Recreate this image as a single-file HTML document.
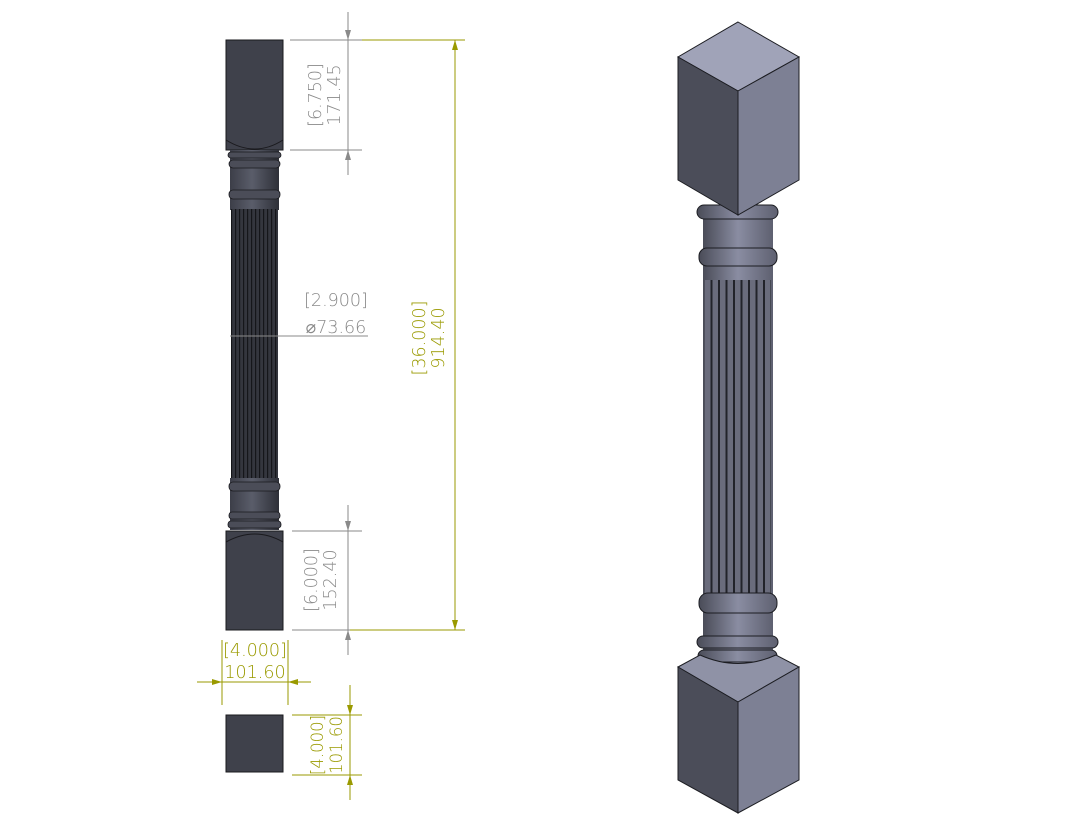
<!DOCTYPE html>
<html><head><meta charset="utf-8"><style>
html,body{margin:0;padding:0;background:#fff;}
svg{display:block;}
text{font-family:"DejaVu Sans","Liberation Sans",sans-serif;font-weight:200;}
</style></head><body>
<svg width="1080" height="835" viewBox="0 0 1080 835" xmlns="http://www.w3.org/2000/svg">
<defs>
<linearGradient id="sh" x1="0" x2="1" y1="0" y2="0">
<stop offset="0" stop-color="#3c3e48"/><stop offset="0.45" stop-color="#5a5d6a"/><stop offset="1" stop-color="#2e3038"/>
</linearGradient>
<linearGradient id="ish" x1="0" x2="1" y1="0" y2="0">
<stop offset="0" stop-color="#4a4c58"/><stop offset="0.5" stop-color="#8a8da2"/><stop offset="1" stop-color="#5e6070"/>
</linearGradient>
<pattern id="fl" x="231" y="0" width="4" height="10" patternUnits="userSpaceOnUse">
<rect width="4" height="10" fill="#34363e"/><rect x="0" width="1.2" height="10" fill="#15161a"/>
</pattern>
<pattern id="ifl" x="703" y="0" width="7.5" height="10" patternUnits="userSpaceOnUse">
<rect width="7.5" height="10" fill="#6a6c7c"/><rect x="0" width="2" height="10" fill="#22232a"/>
</pattern>
</defs>

<rect x="226" y="40" width="57" height="110" fill="#3f414b" stroke="#1a1a1e"/>
<path d="M226,140 Q255,158 283,140" fill="none" stroke="#1a1a1e" stroke-width="1"/>
<rect x="230" y="150" width="49" height="60" fill="url(#sh)"/>
<rect x="228" y="152" width="53" height="6" rx="3" fill="#4b4d58" stroke="#1a1a1e" stroke-width="0.8"/>
<rect x="229" y="160" width="51" height="8" rx="4" fill="#4b4d58" stroke="#1a1a1e" stroke-width="0.8"/>
<rect x="229" y="190" width="51" height="9" rx="4" fill="#4b4d58" stroke="#1a1a1e" stroke-width="0.8"/>
<rect x="231" y="209" width="47" height="272" fill="url(#fl)"/>
<rect x="230" y="478" width="49" height="52" fill="url(#sh)"/>
<rect x="229" y="482" width="51" height="9" rx="4" fill="#4b4d58" stroke="#1a1a1e" stroke-width="0.8"/>
<rect x="229" y="512" width="51" height="7" rx="3" fill="#4b4d58" stroke="#1a1a1e" stroke-width="0.8"/>
<rect x="228" y="521" width="53" height="7" rx="3" fill="#4b4d58" stroke="#1a1a1e" stroke-width="0.8"/>
<rect x="226" y="531" width="57" height="99" fill="#3f414b" stroke="#1a1a1e"/>
<path d="M226,542 Q255,526 283,542" fill="none" stroke="#1a1a1e" stroke-width="1"/>
<rect x="226" y="715" width="57" height="57" fill="#3f414b" stroke="#1a1a1e"/>

<g stroke="#8a8a8a" stroke-width="1" fill="none">
<line x1="290" y1="40" x2="362" y2="40"/>
<line x1="290" y1="150" x2="362" y2="150"/>
<line x1="348" y1="12" x2="348" y2="175"/>
<line x1="230" y1="336" x2="368" y2="336"/>
<line x1="292" y1="531" x2="362" y2="531"/>
<line x1="292" y1="630" x2="350" y2="630"/>
<line x1="348" y1="505" x2="348" y2="655"/>
</g>
<g fill="#8a8a8a">
<path d="M345,30 L351,30 L348,40Z"/><path d="M345,160 L351,160 L348,150Z"/>
<path d="M345,521 L351,521 L348,531Z"/><path d="M345,640 L351,640 L348,630Z"/>
</g>
<g fill="#8a8a8a" font-size="17.5">
<text transform="translate(321,95) rotate(-90)" text-anchor="middle">[6.750]</text>
<text transform="translate(340,95) rotate(-90)" text-anchor="middle">171.45</text>
<text transform="translate(317,580) rotate(-90)" text-anchor="middle">[6.000]</text>
<text transform="translate(336,580) rotate(-90)" text-anchor="middle">152.40</text>
<text x="336" y="306" text-anchor="middle">[2.900]</text>
<text x="336" y="333" text-anchor="middle">⌀73.66</text>
</g>

<g stroke="#9a9a00" stroke-width="1" fill="none">
<line x1="362" y1="40" x2="465" y2="40"/>
<line x1="350" y1="630" x2="465" y2="630"/>
<line x1="455" y1="40" x2="455" y2="630"/>
<line x1="222" y1="640" x2="222" y2="705"/>
<line x1="288" y1="640" x2="288" y2="705"/>
<line x1="197" y1="682" x2="311" y2="682"/>
<line x1="292" y1="715" x2="362" y2="715"/>
<line x1="292" y1="775" x2="362" y2="775"/>
<line x1="350" y1="685" x2="350" y2="800"/>
</g>
<g fill="#9a9a00">
<path d="M452,50 L458,50 L455,40Z"/><path d="M452,620 L458,620 L455,630Z"/>
<path d="M212,679 L212,685 L222,682Z"/><path d="M298,679 L298,685 L288,682Z"/>
<path d="M347,705 L353,705 L350,715Z"/><path d="M347,785 L353,785 L350,775Z"/>
</g>
<g fill="#9a9a00" font-size="17.5">
<text transform="translate(425,338) rotate(-90)" text-anchor="middle">[36.000]</text>
<text transform="translate(444,338) rotate(-90)" text-anchor="middle">914.40</text>
<text x="255" y="656" text-anchor="middle">[4.000]</text>
<text x="255" y="678" text-anchor="middle">101.60</text>
<text transform="translate(323,745) rotate(-90)" text-anchor="middle" font-size="16.5">[4.000]</text>
<text transform="translate(342,745) rotate(-90)" text-anchor="middle" font-size="16.5">101.60</text>
</g>

<rect x="703" y="205" width="70" height="460" fill="url(#ish)"/>
<rect x="705" y="280" width="66" height="315" fill="url(#ifl)"/>
<g fill="url(#ish)" stroke="#1c1d22" stroke-width="1">
<rect x="697" y="205" width="81" height="14" rx="7"/>
<rect x="699" y="248" width="78" height="18" rx="8"/>
<rect x="699" y="593" width="78" height="20" rx="9"/>
<rect x="697" y="636" width="81" height="12" rx="6"/>
<rect x="698" y="650" width="79" height="12" rx="6"/>
</g>
<path d="M738,22 L799,57 L738,91 L678,57Z" fill="#a0a3b8" stroke="#1c1d22"/>
<path d="M678,57 L738,91 L738,215 L678,180Z" fill="#4b4d59" stroke="#1c1d22"/>
<path d="M738,91 L799,57 L799,180 L738,215Z" fill="#7d8094" stroke="#1c1d22"/>
<path d="M678,667 L700,655 Q738,672 776,655 L799,667 L738,702Z" fill="#8f92a6" stroke="#1c1d22"/>
<path d="M678,667 L738,702 L738,813 L678,780Z" fill="#4b4d59" stroke="#1c1d22"/>
<path d="M738,702 L799,667 L799,780 L738,813Z" fill="#7d8094" stroke="#1c1d22"/>
</svg>
</body></html>
